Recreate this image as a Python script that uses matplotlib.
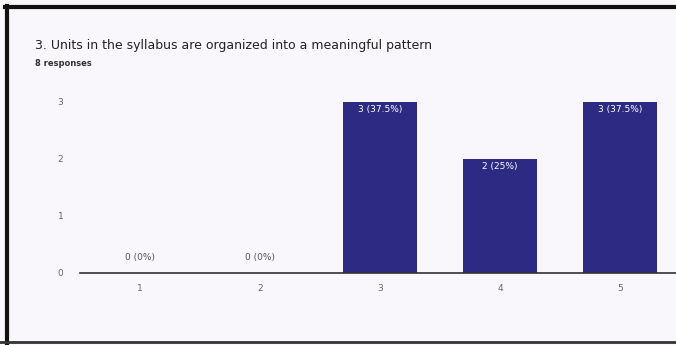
import matplotlib.pyplot as plt
from matplotlib.lines import Line2D

# Survey data
categories = ["1", "2", "3", "4", "5"]
counts = [0, 0, 3, 2, 3]
total = 8
y_ticks = [0, 1, 2, 3]

bar_color = "#2c2a82"
bg_color = "#f9f7fc"

fig = plt.figure(figsize=(6.76, 3.45), dpi=100, facecolor=bg_color)
ax = fig.add_axes([80 / 676, 72 / 345, 600 / 676, 190 / 345], facecolor=bg_color)

x = list(range(1, len(categories) + 1))
ax.bar(x, counts, width=0.62, color=bar_color, zorder=2)

# Value labels
for xi, c in zip(x, counts):
    pct = c / total * 100
    label = f"{c} ({pct:g}%)"
    if c > 0:
        ax.text(xi, c - 0.05, label, ha="center", va="top", color="white", fontsize=6.5, zorder=3)
    else:
        ax.text(xi, 0.2, label, ha="center", va="bottom", color="#555555", fontsize=6.5, zorder=3)

ax.set_xlim(0.5, 5.5)
ax.set_ylim(0, 3.33)
ax.set_xticks(x)
ax.set_xticklabels(categories)
ax.set_yticks(y_ticks)
for s in ["top", "right", "left"]:
    ax.spines[s].set_visible(False)
ax.spines["bottom"].set_color("#333333")
ax.spines["bottom"].set_linewidth(1.2)
ax.tick_params(axis="both", length=0, labelsize=6.5, colors="#666666")
ax.tick_params(axis="x", pad=8)
ax.tick_params(axis="y", pad=12)

# Title and subtitle
fig.text(35 / 676, 1 - 45 / 345, "3. Units in the syllabus are organized into a meaningful pattern",
         fontsize=9, color="#222222", va="center")
fig.text(35 / 676, 1 - 63 / 345, "8 responses", fontsize=6, color="#333333", va="center",
         fontweight="bold")

# Frame border (left, top, bottom)
fig.add_artist(Line2D([6.5 / 676, 6.5 / 676], [0, 1 - 6 / 345], transform=fig.transFigure,
                      color="#111111", linewidth=3))
fig.add_artist(Line2D([5 / 676, 1], [1 - 6.5 / 345, 1 - 6.5 / 345], transform=fig.transFigure,
                      color="#111111", linewidth=3))
fig.add_artist(Line2D([0, 1], [3 / 345, 3 / 345], transform=fig.transFigure,
                      color="#333333", linewidth=2))

plt.savefig("out.png", dpi=100, facecolor=bg_color)
